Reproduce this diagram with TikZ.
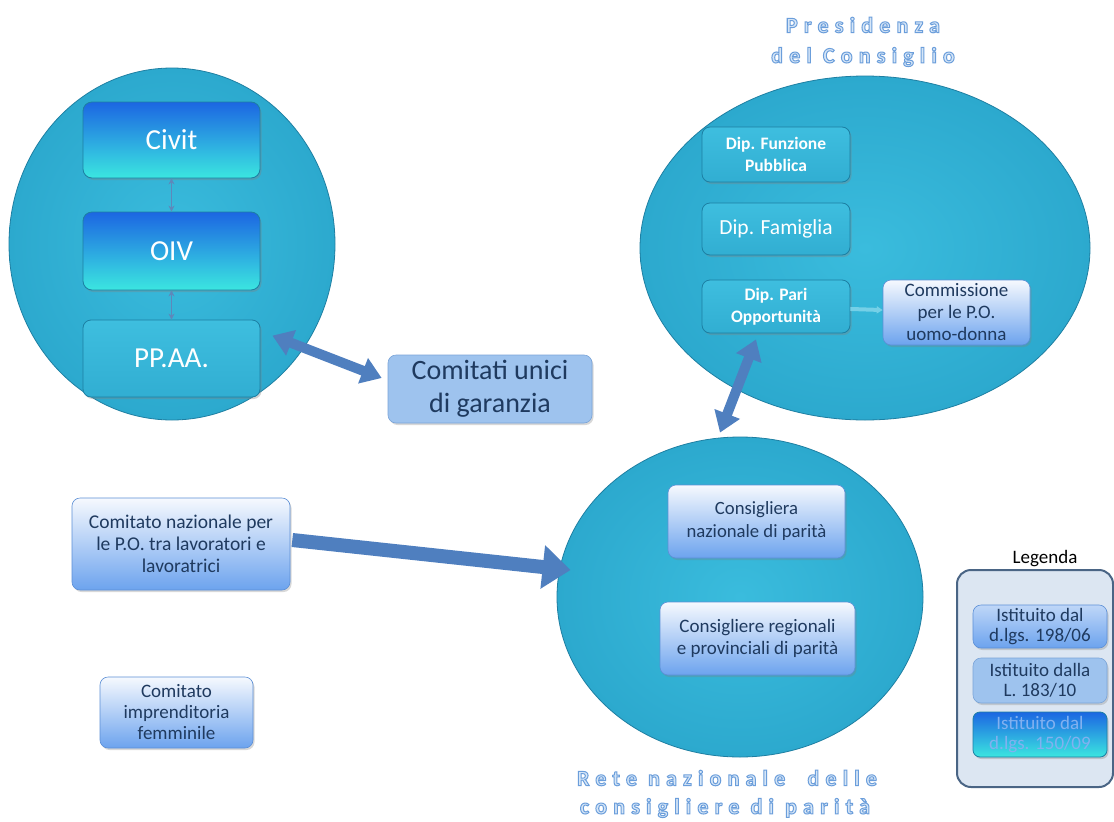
\documentclass[tikz,border=0pt]{standalone}
\usepackage{fontspec}
\setmainfont{Carlito}
\newfontfamily\spacedfont[LetterSpace=28]{Carlito}
\usetikzlibrary{shapes.geometric,arrows.meta,shadows}
\definecolor{ellfill}{HTML}{3ABCDD}
\definecolor{ellout}{HTML}{2CA9CE}
\definecolor{elldraw}{HTML}{1E7FA2}
\definecolor{innertop}{HTML}{3EBEDF}
\definecolor{innerbot}{HTML}{31AED2}
\definecolor{innerdraw}{HTML}{1C7FA3}
\definecolor{civtop}{HTML}{1C66E2}
\definecolor{civbot}{HTML}{3BE6E0}
\definecolor{wtop}{HTML}{F6F9FE}
\definecolor{wbot}{HTML}{6CA3EE}
\definecolor{wdraw}{HTML}{5C8FD6}
\definecolor{darktext}{HTML}{1F3A5F}
\definecolor{cugfill}{HTML}{9EC3EE}
\definecolor{cugdraw}{HTML}{7AA4D8}
\definecolor{fatblue}{HTML}{4F7FBF}
\definecolor{smallarr}{HTML}{5E88BA}
\definecolor{legfill}{HTML}{DCE6F2}
\definecolor{legdraw}{HTML}{4A6585}
\definecolor{titlefill}{HTML}{D6E6F7}
\tikzset{
  ell/.style={ellipse, draw=elldraw, line width=0.8pt, inner color=ellfill, outer color=ellout},
  innerbox/.style={rectangle, rounded corners=8pt, draw=innerdraw, line width=0.8pt, top color=innertop, bottom color=innerbot, text=white, align=center, inner sep=0pt, drop shadow={opacity=0.35, shadow xshift=1.5pt, shadow yshift=-2pt}},
  civbox/.style={rectangle, rounded corners=9pt, draw=innerdraw, line width=0.8pt, top color=civtop, bottom color=civbot, text=white, align=center, inner sep=0pt, drop shadow={opacity=0.35, shadow xshift=1.5pt, shadow yshift=-2pt}},
  wbox/.style={rectangle, rounded corners=8pt, draw=wdraw, line width=0.6pt, top color=wtop, bottom color=wbot, text=darktext, align=center, inner sep=0pt, drop shadow={opacity=0.3, shadow xshift=1.5pt, shadow yshift=-2pt}},
  cugbox/.style={rectangle, rounded corners=8pt, draw=cugdraw, line width=0.6pt, fill=cugfill, text=darktext, align=center, inner sep=0pt, drop shadow={opacity=0.3, shadow xshift=1.5pt, shadow yshift=-2pt}},
  fatarr/.style={draw=fatblue, line width=10pt, {Triangle[length=20pt,width=26pt]}-{Triangle[length=20pt,width=26pt]}},
  bigarr/.style={draw=fatblue, line width=14pt, -{Triangle[length=28pt,width=42pt]}},
  thinarr/.style={draw=smallarr, line width=1pt, {Stealth[length=6pt,width=6pt]}-{Stealth[length=6pt,width=6pt]}},
  commarr/.style={draw=ellfill!70!white, line width=4pt, -{Triangle[length=6pt,width=7pt]}},
  titlestyle/.style={text=titlefill, font=\spacedfont\bfseries\fontsize{22}{24}\selectfont, inner sep=0pt, anchor=center}
}
\newcommand{\outl}[1]{\special{pdf:literal direct 2 Tr 1.0 w 0.42 0.62 0.86 RG}#1\special{pdf:literal direct 0 Tr 0.4 w}}
\begin{document}
\begin{tikzpicture}[x=1pt,y=-1pt]
\useasboundingbox[fill=white] (0,0) rectangle (1114,822);

% left ellipse
\node[ell, minimum width=326pt, minimum height=352pt] (lell) at (172,244) {};
\node[civbox, minimum width=177pt, minimum height=76pt, font=\fontsize{29}{30}\selectfont] (civit) at (171.5,140) {Civit};
\node[civbox, minimum width=177pt, minimum height=78pt, font=\fontsize{29}{30}\selectfont] (oiv) at (171.5,251) {OIV};
\node[innerbox, minimum width=177pt, minimum height=77pt, font=\fontsize{29}{30}\selectfont] (ppaa) at (171.5,358.5) {PP.AA.};
\draw[thinarr] (civit) -- (oiv);
\draw[thinarr] (oiv) -- (ppaa);

% comitati unici
\node[cugbox, minimum width=204pt, minimum height=68pt, font=\fontsize{28}{33}\selectfont] (cug) at (490,389) {Comitati unici\\di garanzia};

% presidenza ellipse
\node[ell, minimum width=450pt, minimum height=344pt] (pres) at (865,248) {};
\node[innerbox, minimum width=148pt, minimum height=55pt, font=\bfseries\fontsize{17.5}{22}\selectfont] (dipfp) at (776,154.5) {Dip. Funzione\\Pubblica};
\node[innerbox, minimum width=148pt, minimum height=52pt, font=\fontsize{21.5}{24}\selectfont] (dipfam) at (776,229) {Dip. Famiglia};
\node[innerbox, minimum width=148pt, minimum height=53pt, font=\bfseries\fontsize{17.5}{22}\selectfont] (dippo) at (776,306.5) {Dip. Pari\\Opportunità};
\node[wbox, minimum width=147pt, minimum height=65pt, font=\fontsize{19}{22}\selectfont] (comm) at (956.5,312.5) {Commissione\\per le P.O.\\uomo-donna};
\draw[commarr] (dippo) -- (comm);

% rete ellipse
\node[ell, minimum width=366pt, minimum height=320pt] (rete) at (740,597) {};
\node[wbox, minimum width=177pt, minimum height=73pt, font=\fontsize{18.7}{23}\selectfont] (cons1) at (756.5,521.5) {Consigliera\\nazionale di parità};
\node[wbox, minimum width=195pt, minimum height=73pt, font=\fontsize{19}{22}\selectfont] (cons2) at (757.5,638.5) {Consigliere regionali\\e provinciali di parità};

% left lower boxes
\node[wbox, minimum width=218pt, minimum height=92pt, font=\fontsize{19.5}{22}\selectfont] (cnaz) at (181,544) {Comitato nazionale per\\le P.O. tra lavoratori e\\lavoratrici};
\node[wbox, minimum width=153pt, minimum height=71pt, font=\fontsize{19}{21}\selectfont] (cimp) at (176.5,712.5) {Comitato\\imprenditoria\\femminile};

% fat arrows
\draw[fatarr] ([xshift=12pt,yshift=-16pt]ppaa.north east) -- ([xshift=-6pt,yshift=11pt]cug.west);
\draw[fatarr] ([xshift=-20pt,yshift=-6pt]dippo.south) -- ([xshift=-20pt,yshift=4pt]rete.north);
\draw[bigarr] ([xshift=2pt,yshift=4pt]cnaz.east) -- ([xshift=14pt,yshift=27pt]rete.west);

% legend
\node[font=\fontsize{19}{20}\selectfont, inner sep=0pt] (legt) at (1045,559) {Legenda};
\node[rectangle, rounded corners=14pt, draw=legdraw, line width=2pt, fill=legfill, minimum width=156pt, minimum height=217pt] (legbox) at (1035,678.5) {};
\node[wbox, top color=wtop!60!wbot, minimum width=134pt, minimum height=43pt, font=\fontsize{19}{20}\selectfont] (leg1) at (1040,626.5) {Istituito dal\\d.lgs. 198/06};
\node[cugbox, minimum width=134pt, minimum height=45pt, font=\fontsize{19}{20}\selectfont] (leg2) at (1040,680.5) {Istituito dalla\\L. 183/10};
\node[civbox, text=wbot!85!white, minimum width=134pt, minimum height=45pt, rounded corners=7pt, font=\fontsize{19}{20}\selectfont] (leg3) at (1040,734.5) {Istituito dal\\d.lgs. 150/09};

% titles
\node[titlestyle] (t1) at (863,25) {\outl{Presidenza}};
\node[titlestyle] (t2) at (863,57) {\outl{del Consiglio}};
\node[titlestyle] (t3) at (727,778) {\outl{Rete nazionale\ \ delle}};
\node[titlestyle] (t4) at (725,808) {\outl{consigliere di parità}};
\end{tikzpicture}
\end{document}
